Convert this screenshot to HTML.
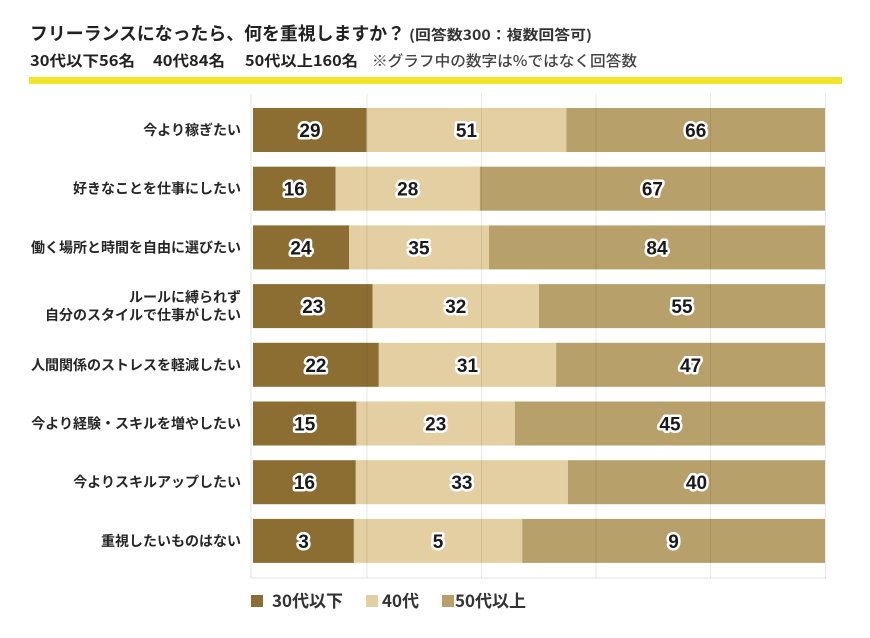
<!DOCTYPE html>
<html>
<head>
<meta charset="utf-8">
<style>
html,body{margin:0;padding:0;background:#fff;}
svg{display:block;}
text{font-family:"Liberation Sans","Noto Sans CJK JP",sans-serif;}
.jp{font-family:"Noto Sans CJK JP","Liberation Sans",sans-serif;}
.num{font-family:"Noto Sans CJK JP","Liberation Sans",sans-serif;font-weight:700;font-size:19px;fill:#1a1a1a;stroke:#fff;stroke-width:5px;stroke-linejoin:round;paint-order:stroke;text-anchor:middle;}
.lab{font-family:"Noto Sans CJK JP",sans-serif;font-weight:700;font-size:14px;fill:#262626;text-anchor:end;}
</style>
</head>
<body>
<svg width="870" height="638" viewBox="0 0 870 638" xmlns="http://www.w3.org/2000/svg">
<rect width="870" height="638" fill="#fff"/>
<!-- title -->
<text class="jp" x="30" y="40" font-size="18" font-weight="700" fill="#222" textLength="375" lengthAdjust="spacingAndGlyphs">フリーランスになったら、何を重視しますか？</text>
<text class="jp" x="409" y="40" font-size="14" font-weight="700" fill="#333" textLength="183" lengthAdjust="spacingAndGlyphs">(回答数300：複数回答可)</text>
<text class="jp" x="30" y="66" font-size="15" font-weight="700" fill="#222" textLength="105" lengthAdjust="spacingAndGlyphs">30代以下56名</text>
<text class="jp" x="153" y="66" font-size="15" font-weight="700" fill="#222" textLength="72" lengthAdjust="spacingAndGlyphs">40代84名</text>
<text class="jp" x="245" y="66" font-size="15" font-weight="700" fill="#222" textLength="113" lengthAdjust="spacingAndGlyphs">50代以上160名</text>
<text class="jp" x="372" y="66" font-size="15" font-weight="500" fill="#444" textLength="265" lengthAdjust="spacingAndGlyphs">※グラフ中の数字は%ではなく回答数</text>
<!-- yellow line -->
<rect x="29" y="77" width="813" height="7" fill="#f3e42a"/>

<!-- grid frame -->
<g stroke="#e3e3e3" stroke-width="1" fill="none">
<line x1="251" y1="94" x2="251" y2="578"/>
<line x1="251" y1="578" x2="826" y2="578"/>
</g>

<!-- bars -->
<g id="bars">
<rect x="253" y="108" width="113.6" height="44" fill="#8c6e33"/>
<rect x="366.6" y="108" width="199.8" height="44" fill="#e3cfa2"/>
<rect x="566.4" y="108" width="258.6" height="44" fill="#b8a06a"/>
<rect x="253" y="166.7" width="82.5" height="44" fill="#8c6e33"/>
<rect x="335.5" y="166.7" width="144.3" height="44" fill="#e3cfa2"/>
<rect x="479.8" y="166.7" width="345.2" height="44" fill="#b8a06a"/>
<rect x="253" y="225.4" width="96" height="44" fill="#8c6e33"/>
<rect x="349" y="225.4" width="140" height="44" fill="#e3cfa2"/>
<rect x="489" y="225.4" width="336" height="44" fill="#b8a06a"/>
<rect x="253" y="284.1" width="119.6" height="44" fill="#8c6e33"/>
<rect x="372.6" y="284.1" width="166.4" height="44" fill="#e3cfa2"/>
<rect x="539" y="284.1" width="286" height="44" fill="#b8a06a"/>
<rect x="253" y="342.8" width="125.8" height="44" fill="#8c6e33"/>
<rect x="378.8" y="342.8" width="177.3" height="44" fill="#e3cfa2"/>
<rect x="556.1" y="342.8" width="268.9" height="44" fill="#b8a06a"/>
<rect x="253" y="401.5" width="103.4" height="44" fill="#8c6e33"/>
<rect x="356.4" y="401.5" width="158.5" height="44" fill="#e3cfa2"/>
<rect x="514.9" y="401.5" width="310.1" height="44" fill="#b8a06a"/>
<rect x="253" y="460.2" width="102.8" height="44" fill="#8c6e33"/>
<rect x="355.8" y="460.2" width="212.1" height="44" fill="#e3cfa2"/>
<rect x="567.9" y="460.2" width="257.1" height="44" fill="#b8a06a"/>
<rect x="253" y="518.9" width="100.9" height="44" fill="#8c6e33"/>
<rect x="353.9" y="518.9" width="168.3" height="44" fill="#e3cfa2"/>
<rect x="522.2" y="518.9" width="302.8" height="44" fill="#b8a06a"/>
</g>

<!-- vertical grid lines over bars -->
<g stroke="rgba(0,0,0,0.09)" stroke-width="1">
<line x1="367" y1="94" x2="367" y2="578"/>
<line x1="481.5" y1="94" x2="481.5" y2="578"/>
<line x1="596" y1="94" x2="596" y2="578"/>
<line x1="710.5" y1="94" x2="710.5" y2="578"/>
<line x1="825.5" y1="94" x2="825.5" y2="578"/>
</g>

<!-- numbers -->
<g class="num">
<text x="310" y="137">29</text><text x="466.5" y="137">51</text><text x="695.7" y="137">66</text>
<text x="294.3" y="195.7">16</text><text x="407.7" y="195.7">28</text><text x="652.4" y="195.7">67</text>
<text x="301" y="254.4">24</text><text x="419" y="254.4">35</text><text x="657" y="254.4">84</text>
<text x="312.8" y="313.1">23</text><text x="455.8" y="313.1">32</text><text x="682" y="313.1">55</text>
<text x="315.9" y="371.8">22</text><text x="467.5" y="371.8">31</text><text x="690.6" y="371.8">47</text>
<text x="304.7" y="430.5">15</text><text x="435.7" y="430.5">23</text><text x="670" y="430.5">45</text>
<text x="304.4" y="489.2">16</text><text x="461.9" y="489.2">33</text><text x="696.5" y="489.2">40</text>
<text x="303.5" y="547.9">3</text><text x="438" y="547.9">5</text><text x="673.6" y="547.9">9</text>
</g>

<!-- row labels -->
<g class="lab">
<text x="241" y="135">今より稼ぎたい</text>
<text x="241" y="193.7">好きなことを仕事にしたい</text>
<text x="241" y="252.4">働く場所と時間を自由に選びたい</text>
<text x="241" y="302">ルールに縛られず</text>
<text x="241" y="320">自分のスタイルで仕事がしたい</text>
<text x="241" y="369.8">人間関係のストレスを軽減したい</text>
<text x="241" y="428.5">今より経験・スキルを増やしたい</text>
<text x="241" y="487.2">今よりスキルアップしたい</text>
<text x="241" y="545.9">重視したいものはない</text>
</g>

<!-- legend -->
<rect x="251" y="595" width="12" height="12" fill="#8c6e33"/>
<text class="jp" x="272" y="607" font-size="17" font-weight="700" fill="#333">30代以下</text>
<rect x="366" y="595" width="12" height="12" fill="#e3cfa2"/>
<text class="jp" x="382" y="607" font-size="17" font-weight="700" fill="#333">40代</text>
<rect x="442" y="595" width="12" height="12" fill="#b8a06a"/>
<text class="jp" x="455" y="607" font-size="17" font-weight="700" fill="#333">50代以上</text>
</svg>
</body>
</html>
